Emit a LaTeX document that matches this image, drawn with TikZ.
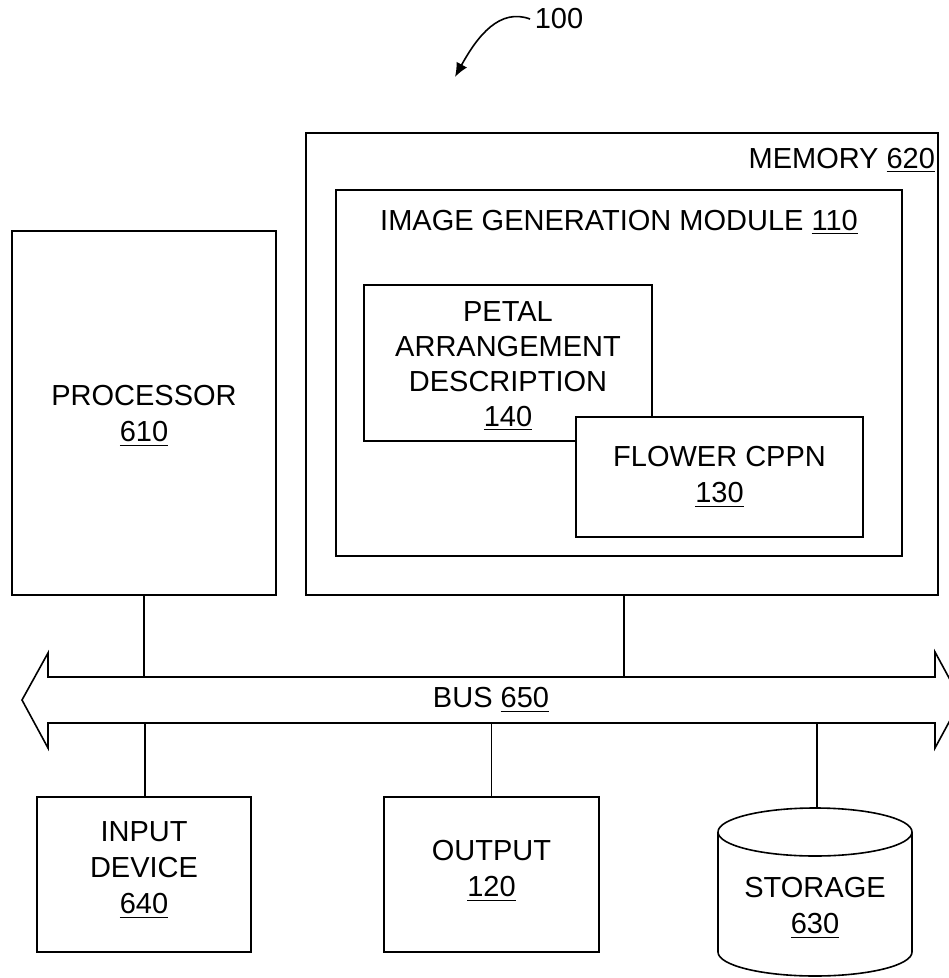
\documentclass[tikz,border=0pt]{standalone}
\usepackage{fontspec}
\setmainfont{Liberation Sans}
\usetikzlibrary{positioning,arrows.meta}

\tikzset{
  blk/.style={draw, line width=0.8pt, align=center, font=\fontsize{14.5}{18}\selectfont},
  lbl/.style={align=center, font=\fontsize{14.5}{18}\selectfont, inner sep=0pt},
}

\begin{document}
\begin{tikzpicture}[x=0.5pt, y=-0.5pt, line width=0.8pt]
\useasboundingbox (0,0) rectangle (948,978);
% upper blocks
\node[blk, minimum width=132pt, minimum height=182pt] (proc) at (144,413) {};
\node[lbl] (proclbl) at (144,416) {PROCESSOR\\\underline{610}};
\node[blk, minimum width=316pt, minimum height=231pt] (mem) at (622,364) {};
\node[lbl, anchor=north east] (memlbl) at ([xshift=-1.5pt,yshift=-7.5pt]mem.north east) {MEMORY \underline{620}};
\node[blk, minimum width=283pt, minimum height=183pt] (igm) at (619,373) {};
\node[lbl, anchor=north] (igmlbl) at ([yshift=-10pt]igm.north) {IMAGE GENERATION MODULE \underline{110}};
\node[blk, minimum width=144pt, minimum height=78pt] (petal) at (508,363) {};
\node[lbl, font=\fontsize{14.5}{17.4}\selectfont] (petallbl) at (508,366) {PETAL\\ARRANGEMENT\\DESCRIPTION\\\underline{140}};
\node[blk, fill=white, minimum width=143.5pt, minimum height=60pt] (cppn) at (719.5,477) {FLOWER CPPN\\\underline{130}};
% bus
\draw (22,700) -- (48,653) -- (48,677) -- (935,677) -- (935,652) -- (961,700)
  -- (935,748) -- (935,723) -- (48,723) -- (48,748) -- cycle;
\node[lbl] (bus) at (491,700) {BUS \underline{650}};
\coordinate (bustop) at (0,677);
\coordinate (busbot) at (0,723);
% lower blocks
\node[blk, minimum width=107pt, minimum height=77.5pt] (inp) at (144,874.5) {};
\node[lbl] (inplbl) at (144,870) {INPUT\\DEVICE\\\underline{640}};
\node[blk, minimum width=107.5pt, minimum height=77.5pt] (outp) at (491.5,874.5) {};
\node[lbl] (outplbl) at (491.5,871) {OUTPUT\\\underline{120}};
\draw (815,832) ellipse [x radius=97, y radius=24];
\draw (718,832) -- (718,952) arc[start angle=180, end angle=0, x radius=97, y radius=24] -- (912,832);
\coordinate (stortop) at (817,808);
\node[lbl] (stor) at (815,908) {STORAGE\\\underline{630}};
% connectors
\draw (proc.south) -- (proc.south |- bustop);
\draw ([xshift=1pt]mem.south) -- ([xshift=1pt]mem.south |- bustop);
\draw ([xshift=0.5pt]inp.north) -- ([xshift=0.5pt]inp.north |- busbot);
\draw (outp.north) -- (outp.north |- busbot);
\draw (stortop) -- (stortop |- busbot);
% reference numeral
\node[lbl, anchor=west] (ref) at (534,19) {100};
\draw[-{Latex[length=7pt,width=6pt]}] ([xshift=-2pt]ref.west) .. controls (500,8) and (478,35) .. (455,77);
\end{tikzpicture}
\end{document}
